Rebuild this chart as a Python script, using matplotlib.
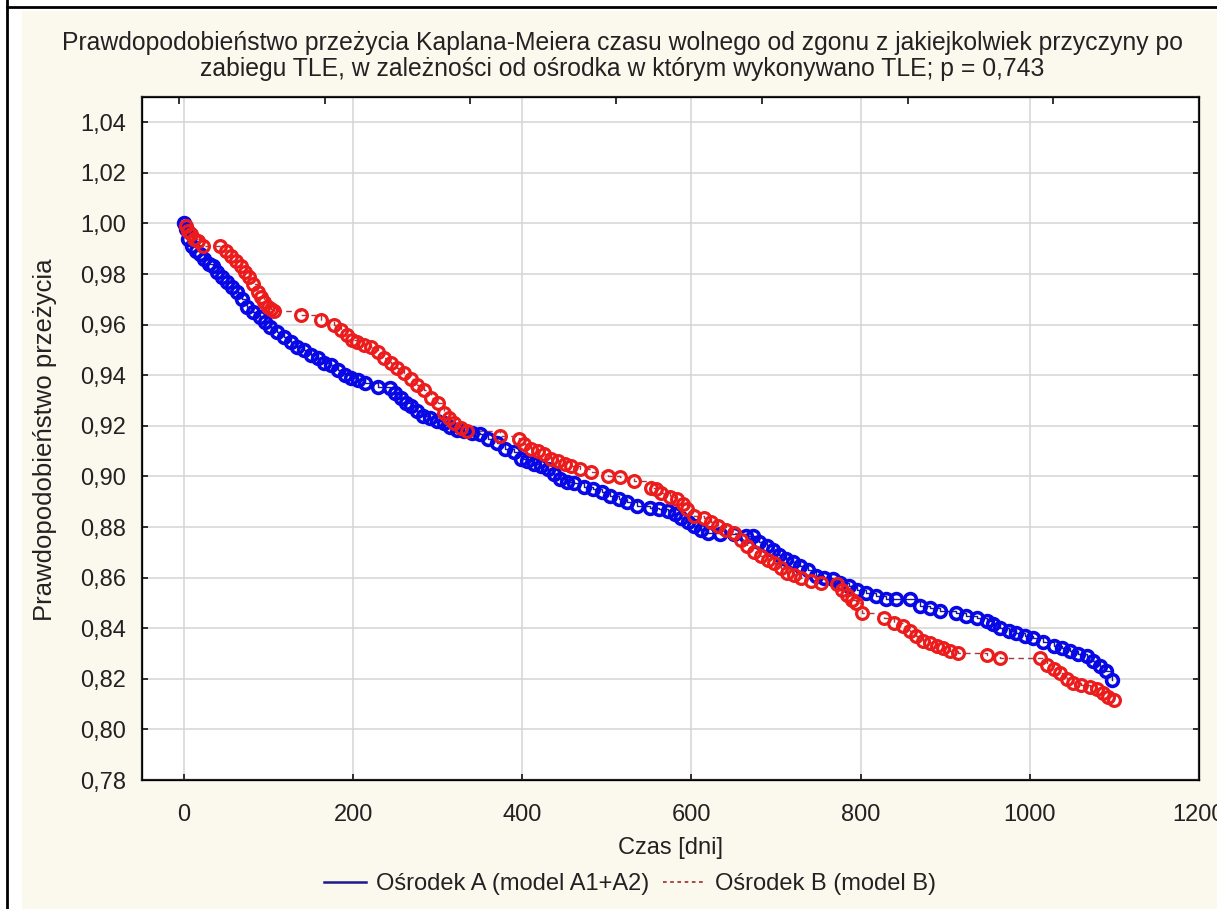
import numpy as np
import matplotlib
matplotlib.use("Agg")
import matplotlib.pyplot as plt
from matplotlib.lines import Line2D
from matplotlib.patches import Rectangle
from matplotlib.ticker import FuncFormatter

plt.rcParams['font.family'] = ['Liberation Sans', 'DejaVu Sans']

# Osrodek A (model A1+A2): czas [dni], prawdopodobienstwo przezycia
time_a = [0, 2, 5, 9, 14, 19, 24, 29, 34, 39, 45, 51, 57, 63, 69, 75, 82, 90, 96, 102,
          110, 118, 126, 134, 142, 150, 158, 166, 174, 182, 190, 198, 206, 214, 229, 244,
          250, 256, 262, 268, 275, 283, 291, 299, 307, 315, 323, 331, 341, 350, 360, 370,
          380, 390, 398, 406, 414, 422, 430, 437, 445, 453, 461, 473, 484, 494, 504, 514,
          524, 536, 551, 562, 572, 580, 588, 596, 603, 611, 619, 634, 650, 665, 673, 680,
          689, 696, 704, 712, 720, 728, 738, 747, 757, 767, 776, 786, 796, 806, 818, 830,
          842, 858, 870, 882, 894, 913, 925, 937, 949, 957, 965, 975, 984, 994, 1004, 1016,
          1028, 1038, 1047, 1057, 1067, 1075, 1083, 1090, 1097]
surv_a = [1.000, 0.998, 0.994, 0.991, 0.989, 0.988, 0.986, 0.984, 0.983, 0.981, 0.979, 0.977,
          0.975, 0.973, 0.970, 0.967, 0.965, 0.963, 0.961, 0.959, 0.957, 0.955, 0.953, 0.951,
          0.950, 0.948, 0.947, 0.945, 0.944, 0.942, 0.940, 0.939, 0.938, 0.937, 0.9355, 0.935,
          0.933, 0.931, 0.929, 0.928, 0.926, 0.924, 0.923, 0.922, 0.921, 0.9195, 0.9185, 0.918,
          0.917, 0.9167, 0.915, 0.9133, 0.911, 0.9095, 0.907, 0.906, 0.905, 0.904, 0.903, 0.901,
          0.899, 0.898, 0.8975, 0.896, 0.895, 0.894, 0.8923, 0.891, 0.890, 0.8883, 0.8876, 0.887,
          0.8863, 0.885, 0.8836, 0.882, 0.8804, 0.879, 0.8778, 0.8771, 0.8771, 0.8765, 0.8765,
          0.874, 0.8725, 0.871, 0.869, 0.8672, 0.866, 0.8646, 0.863, 0.8606, 0.860, 0.8593,
          0.858, 0.8566, 0.855, 0.854, 0.8527, 0.8514, 0.8514, 0.8514, 0.8487, 0.848, 0.8468,
          0.8461, 0.8448, 0.844, 0.8428, 0.8415, 0.8401, 0.839, 0.8381, 0.837, 0.8362, 0.8345,
          0.8328, 0.832, 0.8309, 0.830, 0.8289, 0.827, 0.8249, 0.823, 0.8197]

# Osrodek B (model B)
time_b = [2, 5, 8, 12, 16, 22, 43, 50, 55, 61, 67, 72, 77, 82, 87, 91, 95, 99, 103, 107,
          138, 162, 177, 186, 193, 199, 205, 213, 221, 229, 237, 245, 252, 260, 268, 276,
          284, 292, 300, 307, 313, 319, 327, 335, 374, 396, 402, 410, 418, 426, 434, 442,
          450, 458, 468, 481, 501, 516, 532, 552, 558, 564, 574, 583, 590, 595, 603, 615,
          623, 631, 641, 650, 658, 666, 674, 682, 690, 698, 706, 713, 721, 729, 741, 753,
          772, 778, 784, 790, 795, 801, 828, 840, 850, 858, 866, 874, 882, 890, 897, 906,
          915, 949, 965, 1012, 1020, 1028, 1036, 1044, 1051, 1061, 1071, 1079, 1087, 1093, 1099]
surv_b = [0.999, 0.997, 0.996, 0.994, 0.993, 0.991, 0.991, 0.989, 0.987, 0.985, 0.983, 0.981,
          0.979, 0.976, 0.973, 0.971, 0.969, 0.967, 0.966, 0.9655, 0.964, 0.962, 0.960, 0.958,
          0.956, 0.954, 0.953, 0.952, 0.951, 0.949, 0.947, 0.945, 0.943, 0.941, 0.9385, 0.936,
          0.934, 0.931, 0.929, 0.925, 0.923, 0.921, 0.919, 0.918, 0.916, 0.915, 0.913, 0.911,
          0.910, 0.909, 0.907, 0.906, 0.905, 0.904, 0.903, 0.9016, 0.9003, 0.8996, 0.8983, 0.8956,
          0.895, 0.8936, 0.892, 0.891, 0.889, 0.887, 0.8844, 0.8837, 0.882, 0.8804, 0.879, 0.8777,
          0.875, 0.8724, 0.870, 0.8684, 0.867, 0.8658, 0.864, 0.8618, 0.861, 0.8599, 0.8585, 0.858,
          0.8575, 0.855, 0.853, 0.851, 0.850, 0.8461, 0.8441, 0.842, 0.8408, 0.839, 0.8368, 0.835,
          0.8342, 0.833, 0.8322, 0.831, 0.8302, 0.8295, 0.8282, 0.8282, 0.8255, 0.824, 0.8222,
          0.820, 0.8182, 0.8175, 0.8169, 0.816, 0.8143, 0.813, 0.8116]

title = ("Prawdopodobieństwo przeżycia Kaplana-Meiera czasu wolnego od zgonu z jakiejkolwiek przyczyny po\n"
         "zabiegu TLE, w zależności od ośrodka w którym wykonywano TLE; p = 0,743")
label_a = "Ośrodek A (model A1+A2)"
label_b = "Ośrodek B (model B)"
x_ticks = [0, 200, 400, 600, 800, 1000, 1200]
y_ticks = [0.78, 0.80, 0.82, 0.84, 0.86, 0.88, 0.90, 0.92, 0.94, 0.96, 0.98, 1.00, 1.02, 1.04]

W, H = 1217, 909
cream = '#fbf8ee'
fs = 17

fig = plt.figure(figsize=(W / 100, H / 100), dpi=100)
fig.patch.set_facecolor('white')

# tlo i ramka
fig.patches.append(Rectangle((22 / W, 0), 1, 1 - 11 / H, transform=fig.transFigure,
                             facecolor=cream, edgecolor='none', zorder=-5))
fig.lines.append(Line2D([6.5 / W, 6.5 / W], [0, 1], transform=fig.transFigure, color='black', lw=2))
fig.lines.append(Line2D([6.5 / W, 1], [1 - 7 / H, 1 - 7 / H], transform=fig.transFigure, color='black', lw=2))

ax = fig.add_axes([141.7 / W, 1 - 780 / H, (1199 - 141.7) / W, (780 - 97) / H])
ax.set_facecolor('white')

ax.plot(time_a, surv_a, color='#1a1a8c', lw=1.0, drawstyle='steps-post', zorder=3)
ax.plot(time_a, surv_a, ls='none', marker='o', ms=8.5, mfc='none', mec='#0808e6', mew=2.6, zorder=4)
ax.plot(time_b, surv_b, color='#a33a3a', lw=1.0, ls=(0, (4, 3)), drawstyle='steps-post', zorder=3)
ax.plot(time_b, surv_b, ls='none', marker='o', ms=8.5, mfc='none', mec='#ec1c1c', mew=2.3, zorder=5)

ax.set_xlim(-50, 1200)
ax.set_ylim(0.78, 1.05)
ax.set_xticks(x_ticks)
ax.set_yticks(y_ticks)
ax.yaxis.set_major_formatter(FuncFormatter(lambda v, pos: '{:.2f}'.format(v).replace('.', ',')))
ax.grid(True, color='#d4d4d4', lw=1.1)
ax.set_axisbelow(True)
ax.tick_params(axis='both', direction='in', length=4, width=1.3, labelsize=fs, colors='#222222',
               right=True, top=False)
ax.tick_params(axis='x', pad=17)
ax.tick_params(axis='y', pad=11)
for s in ax.spines.values():
    s.set_color('#222222')
    s.set_linewidth(1.6)

# gorna os z wlasnymi kreskami
ax2 = ax.twiny()
ax2.set_xlim(-0.256, 7.0)
ax2.set_xticks(range(7))
ax2.set_xticklabels([])
ax2.tick_params(axis='x', direction='in', length=5, width=1.3, colors='#222222')

fig.text(622 / W, 1 - 56 / H, title, ha='center', va='center', fontsize=17.8, color='#222222',
         linespacing=1.15)
fig.text(45 / W, 1 - 440 / H, "Prawdopodobieństwo przeżycia", rotation=90, ha='center', va='center',
         fontsize=18.5, color='#222222')
fig.text(670 / W, 1 - 848 / H, "Czas [dni]", ha='center', va='center', fontsize=fs, color='#222222')

handles = [Line2D([], [], color='#1a1a8c', lw=1.8),
           Line2D([], [], color='#a33a3a', lw=1.3, ls=(0, (2, 2)))]
fig.legend(handles, [label_a, label_b], loc='center', bbox_to_anchor=(630 / W, 1 - 884 / H),
           ncol=2, frameon=False, fontsize=fs, handlelength=1.8, handletextpad=0.4,
           columnspacing=0.6, labelcolor='#222222')

fig.savefig('out.png', dpi=100, facecolor=fig.get_facecolor())
